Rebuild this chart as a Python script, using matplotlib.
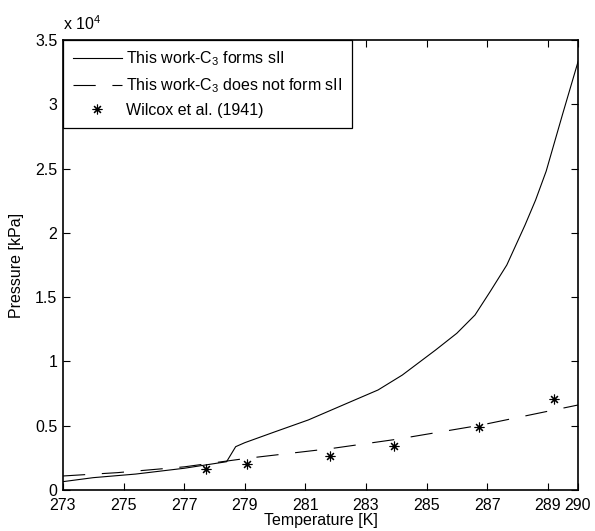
import matplotlib
matplotlib.use("Agg")
import matplotlib.pyplot as plt
from matplotlib.ticker import FuncFormatter

plt.rcParams['font.family'] = ['Liberation Sans', 'DejaVu Sans']
plt.rcParams['mathtext.fontset'] = 'custom'
plt.rcParams['mathtext.rm'] = 'Liberation Sans'
plt.rcParams['mathtext.it'] = 'Liberation Sans'
plt.rcParams['font.size'] = 11.5
plt.rcParams['lines.scale_dashes'] = False

# this work, C3 forms sII (solid)
t_sii = [273, 274, 275.4, 277, 278.4, 278.7, 279.0, 280, 281.1, 282.5, 283.4,
         284.2, 285.3, 286.0, 286.6, 287.1, 287.65, 288.25, 288.6, 288.95,
         289.15, 289.5, 290]
p_sii = [650, 960, 1240, 1690, 2200, 3370, 3680, 4530, 5450, 6870, 7780,
         8940, 10890, 12190, 13610, 15430, 17500, 20600, 22550, 24800,
         26440, 29300, 33300]

# this work, C3 does not form sII (dashed)
t_no = [273, 274.8, 277, 278.4, 279.06, 281.9, 284.0, 286.8, 289.2, 290]
p_no = [1090, 1350, 1800, 2250, 2460, 3240, 3940, 5050, 6220, 6610]

# Wilcox et al. (1941)
t_exp = [277.72, 279.06, 281.81, 283.94, 286.73, 289.22]
p_exp = [1610, 2020, 2670, 3420, 4870, 7050]

x_ticks = [273, 275, 277, 279, 281, 283, 285, 287, 289, 290]
y_ticks = [0, 5000, 10000, 15000, 20000, 25000, 30000, 35000]

fig = plt.figure(figsize=(5.95, 5.31), dpi=100)
ax = fig.add_axes([63 / 595, 1 - 490 / 531, 515 / 595, 450 / 531])

ax.plot(t_sii, p_sii, color='black', lw=0.8, label='This work-C$_3$ forms sII')
ax.plot(t_no, p_no, color='black', lw=0.8, dashes=(16, 12),
        label='This work-C$_3$ does not form sII')
ax.plot(t_exp, p_exp, linestyle='none', marker=(8, 2, 0), markersize=7,
        markeredgewidth=0.8, color='black', label='Wilcox et al. (1941)')

ax.set_xlim(273, 290)
ax.set_ylim(0, 35000)
ax.set_xticks(x_ticks)
ax.set_yticks(y_ticks)
ax.yaxis.set_major_formatter(FuncFormatter(lambda v, pos: f"{v / 1e4:g}"))
ax.tick_params(direction='in', top=True, right=True, length=5, width=0.8,
               labelsize=11.5)
ax.tick_params(axis='x', pad=6)
ax.tick_params(axis='y', pad=4)
for s in ax.spines.values():
    s.set_linewidth(1.2)

ax.text(0, 1.015, 'x 10$^4$', transform=ax.transAxes, ha='left', va='bottom',
        fontsize=11.5)
ax.set_xlabel('Temperature [K]', labelpad=0)
ax.set_ylabel('Pressure [kPa]', labelpad=8)

leg = ax.legend(loc='upper left', borderaxespad=0, fancybox=False,
                edgecolor='black', framealpha=1, handlelength=3.1,
                handletextpad=0.25, labelspacing=0.5, borderpad=0.6)
leg.get_frame().set_linewidth(0.9)

fig.savefig('out.png', dpi=100)
